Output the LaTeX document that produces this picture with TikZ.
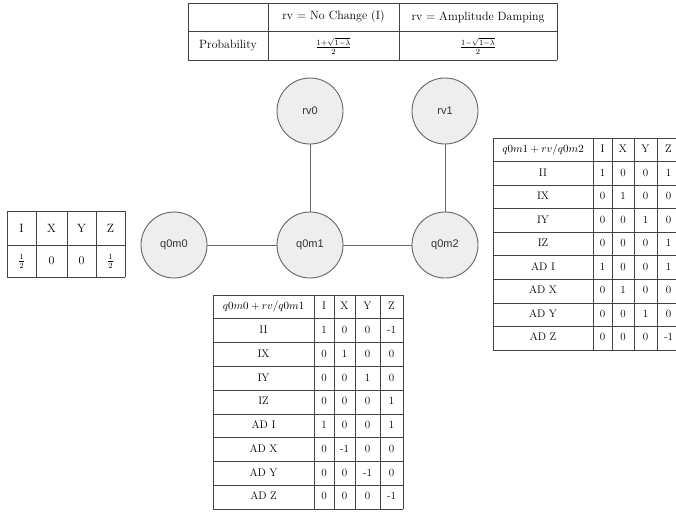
\documentclass[tikz,border=0pt]{standalone}
\usepackage{fontspec}
\newfontfamily\nodefont{Liberation Sans}
\definecolor{circfill}{HTML}{EEEEEE}
\definecolor{circline}{HTML}{666666}
\definecolor{gridline}{HTML}{444444}
\begin{document}
\begin{tikzpicture}[x=1pt,y=-1pt,
  circ/.style={circle,draw=circline,fill=circfill,line width=0.9pt,minimum size=66pt,inner sep=0pt,font=\nodefont\fontsize{11}{13}\selectfont,text=black!80},
  conn/.style={draw=circline,line width=0.9pt},
  grid/.style={draw=gridline,line width=0.7pt},
  cell/.style={inner sep=0pt,text height=7.5pt,text depth=2pt,font=\fontsize{11}{13}\selectfont},
  bigcell/.style={inner sep=0pt,font=\fontsize{12}{14}\selectfont}]
\useasboundingbox (0,0) rectangle (676,512);
\clip (0,0) rectangle (676,512);

% ---------- top table ----------
\foreach \y in {3,31,60} \draw[grid] (188,\y) -- (557,\y);
\foreach \x in {188,268,399,557} \draw[grid] (\x,3) -- (\x,60);
\node[bigcell] (Th1) at (333.5,17) {rv = No Change (I)};
\node[bigcell] (Th2) at (478,17) {rv = Amplitude Damping};
\node[bigcell] (Tr0) at (228,46) {Probability};
\node[bigcell] (Tr1) at (333.5,46) {$\frac{1+\sqrt{1-\lambda}}{2}$};
\node[bigcell] (Tr2) at (478,46) {$\frac{1-\sqrt{1-\lambda}}{2}$};

% ---------- left table ----------
\foreach \y in {211,245,277} \draw[grid] (7,\y) -- (125,\y);
\foreach \x in {7,36,67,96,125} \draw[grid] (\x,211) -- (\x,277);
\node[bigcell] (L1) at (21.5,228) {I};
\node[bigcell] (L2) at (51.5,228) {X};
\node[bigcell] (L3) at (81.5,228) {Y};
\node[bigcell] (L4) at (110.5,228) {Z};
\node[bigcell] (L5) at (21.5,261) {$\frac{1}{2}$};
\node[bigcell] (L6) at (51.5,261) {0};
\node[bigcell] (L7) at (81.5,261) {0};
\node[bigcell] (L8) at (110.5,261) {$\frac{1}{2}$};

% ---------- circles ----------
\node[circ] (rv0) at (310,111) {rv0};
\node[circ] (rv1) at (445,111) {rv1};
\node[circ] (q0m0) at (174,245) {q0m0};
\node[circ] (q0m1) at (310,245) {q0m1};
\node[circ] (q0m2) at (445,245) {q0m2};
\draw[conn] (q0m0) -- (q0m1);
\draw[conn] (q0m1) -- (q0m2);
\draw[conn] (rv0) -- (q0m1);
\draw[conn] (rv1) -- (q0m2);

% ---------- right table ----------
\foreach \i in {0,...,9} \draw[grid] (493,138+23.55*\i) -- (682,138+23.55*\i);
\foreach \x in {493,593,612,634,657,680} \draw[grid] (\x,138) -- (\x,350);
\node[cell] (Rh0) at (543,149.8) {$q0m1+rv/q0m2$};
\node[cell] (Rh1) at (602.5,149.8) {I};
\node[cell] (Rh2) at (623,149.8) {X};
\node[cell] (Rh3) at (645.5,149.8) {Y};
\node[cell] (Rh4) at (668.5,149.8) {Z};
\foreach \lab/\a/\b/\c/\d [count=\i] in {II/1/0/0/1, IX/0/1/0/0, IY/0/0/1/0, IZ/0/0/0/1, AD I/1/0/0/1, AD X/0/1/0/0, AD Y/0/0/1/0, AD Z/0/0/0/-1} {
  \node[cell] (R\i l) at (543,149.8+23.55*\i) {\lab};
  \node[cell] (R\i a) at (602.5,149.8+23.55*\i) {\a};
  \node[cell] (R\i b) at (623,149.8+23.55*\i) {\b};
  \node[cell] (R\i c) at (645.5,149.8+23.55*\i) {\c};
  \node[cell] (R\i d) at (668.5,149.8+23.55*\i) {\d};
}

% ---------- bottom table ----------
\foreach \i in {0,...,9} \draw[grid] (213,295+23.78*\i) -- (403,295+23.78*\i);
\foreach \x in {213,314,334,355,380,403} \draw[grid] (\x,295) -- (\x,509);
\node[cell] (Bh0) at (263.5,306.9) {$q0m0+rv/q0m1$};
\node[cell] (Bh1) at (324,306.9) {I};
\node[cell] (Bh2) at (344.5,306.9) {X};
\node[cell] (Bh3) at (367.5,306.9) {Y};
\node[cell] (Bh4) at (391.5,306.9) {Z};
\foreach \lab/\a/\b/\c/\d [count=\i] in {II/1/0/0/-1, IX/0/1/0/0, IY/0/0/1/0, IZ/0/0/0/1, AD I/1/0/0/1, AD X/0/-1/0/0, AD Y/0/0/-1/0, AD Z/0/0/0/-1} {
  \node[cell] (B\i l) at (263.5,306.9+23.78*\i) {\lab};
  \node[cell] (B\i a) at (324,306.9+23.78*\i) {\a};
  \node[cell] (B\i b) at (344.5,306.9+23.78*\i) {\b};
  \node[cell] (B\i c) at (367.5,306.9+23.78*\i) {\c};
  \node[cell] (B\i d) at (391.5,306.9+23.78*\i) {\d};
}
\end{tikzpicture}
\end{document}
